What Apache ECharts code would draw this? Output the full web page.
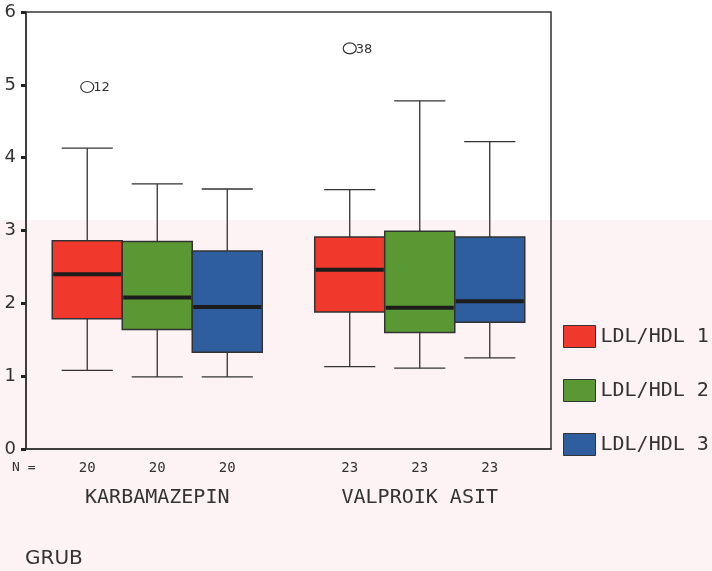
<!DOCTYPE html>
<html><head><meta charset="utf-8">
<script src="https://cdn.jsdelivr.net/npm/echarts@6/dist/echarts.min.js"></script>
<style>html,body{margin:0;padding:0;background:#fff}#c{width:712px;height:571px}</style>
</head><body><div id="c"></div>
<script>
const groups = ['KARBAMAZEPIN', 'VALPROIK ASIT'];
const nCounts = [20, 23];
const seriesNames = ['LDL/HDL 1', 'LDL/HDL 2', 'LDL/HDL 3'];
// [min, Q1, median, Q3, max] for each group
const ldlHdl1 = [[1.08, 1.79, 2.40, 2.86, 4.13], [1.13, 1.88, 2.46, 2.91, 3.56]];
const ldlHdl2 = [[0.99, 1.64, 2.08, 2.85, 3.64], [1.11, 1.60, 1.94, 2.99, 4.78]];
const ldlHdl3 = [[0.99, 1.33, 1.95, 2.72, 3.57], [1.25, 1.74, 2.03, 2.91, 4.22]];
// outliers: [group index, series index, value, case number]
const outliers = [[0, 0, 4.97, 12], [1, 0, 5.50, 38]];
const yMin = 0, yMax = 6, yStep = 1;

const colors = ['#f0392c', '#5a9834', '#2f5e9f'];
const boxOffsets = [-0.2667, 0, 0.2667];
const boxFrac = 0.2667;
const allSeries = [ldlHdl1, ldlHdl2, ldlHdl3];

function boxRender(sIdx) {
  return function (params, api) {
    const cat = api.value(0);
    const band = api.size([1, 0])[0];
    const base = api.coord([cat, 0]);
    const cx = base[0] + boxOffsets[sIdx] * band;
    const w = band * boxFrac;
    const capW = w * 0.73;
    const y = [1, 2, 3, 4, 5].map(d => api.coord([cat, api.value(d)])[1]);
    const ls = { stroke: '#333', lineWidth: 1.3 };
    return {
      type: 'group', children: [
        { type: 'line', shape: { x1: cx, y1: y[4], x2: cx, y2: y[3] }, style: ls },
        { type: 'line', shape: { x1: cx, y1: y[1], x2: cx, y2: y[0] }, style: ls },
        { type: 'line', shape: { x1: cx - capW / 2, y1: y[4], x2: cx + capW / 2, y2: y[4] }, style: ls },
        { type: 'line', shape: { x1: cx - capW / 2, y1: y[0], x2: cx + capW / 2, y2: y[0] }, style: ls },
        { type: 'rect', shape: { x: cx - w / 2, y: y[3], width: w, height: y[1] - y[3] }, style: { fill: colors[sIdx], stroke: '#333', lineWidth: 1.5 } },
        { type: 'line', shape: { x1: cx - w / 2 + 1, y1: y[2], x2: cx + w / 2 - 1, y2: y[2] }, style: { stroke: '#1c1c1c', lineWidth: 4 } },
        { type: 'text', x: cx, y: base[1] + 19, style: { text: String(nCounts[cat]), fill: '#333', font: '14px "DejaVu Sans Mono"', align: 'center', verticalAlign: 'middle' } }
      ]
    };
  };
}

function outlierRender(params, api) {
  const cat = api.value(0);
  const sIdx = api.value(1);
  const band = api.size([1, 0])[0];
  const p = api.coord([cat, api.value(2)]);
  const cx = p[0] + boxOffsets[sIdx] * band;
  return {
    type: 'group', children: [
      { type: 'ellipse', shape: { cx: cx, cy: p[1], rx: 6.5, ry: 5.5 }, style: { fill: 'none', stroke: '#333', lineWidth: 1.2 } },
      { type: 'text', x: cx + 6, y: p[1] + 1, style: { text: String(api.value(3)), fill: '#333', font: '13px "DejaVu Sans"', align: 'left', verticalAlign: 'middle' } }
    ]
  };
}

const series = allSeries.map((arr, i) => ({
  name: seriesNames[i],
  type: 'custom',
  renderItem: boxRender(i),
  itemStyle: { color: colors[i] },
  encode: { x: 0, y: [1, 2, 3, 4, 5] },
  data: arr.map((v, g) => [g].concat(v)),
  clip: false
}));
series.push({
  name: 'outliers',
  type: 'custom',
  renderItem: outlierRender,
  encode: { x: 0, y: 2 },
  data: outliers,
  clip: false
});

const chart = echarts.init(document.getElementById('c'), null, { renderer: 'canvas' });
chart.setOption({
  backgroundColor: '#ffffff',
  animation: false,
  title: {
    text: 'GRUB', left: 25, top: 549, padding: 0,
    textStyle: { fontFamily: 'DejaVu Sans', fontSize: 20, fontWeight: 'normal', color: '#333' }
  },
  graphic: [
    { type: 'rect', left: 0, top: 220, z: -10, silent: true, shape: { width: 712, height: 351 }, style: { fill: '#fdf2f4' } },
    { type: 'text', left: 12, top: 461, style: { text: 'N =', fill: '#333', font: '13px "DejaVu Sans Mono"' } }
  ],
  legend: {
    orient: 'vertical', left: 563, top: 325, padding: 0,
    itemWidth: 32, itemHeight: 22, itemGap: 31,
    icon: 'rect',
    data: seriesNames,
    itemStyle: { borderColor: '#333', borderWidth: 1 },
    textStyle: { fontFamily: 'DejaVu Sans Mono', fontSize: 20, color: '#333', padding: [4, 0, 0, 0] }
  },
  grid: {
    left: 26, right: 161, top: 12, bottom: 122,
    show: true, borderColor: '#333', borderWidth: 1.5, backgroundColor: 'transparent'
  },
  xAxis: {
    type: 'category', data: groups, boundaryGap: true,
    axisLine: { lineStyle: { color: '#333', width: 1.5 } },
    axisTick: { alignWithLabel: true, length: 4, lineStyle: { color: '#222', width: 3 } },
    axisLabel: { margin: 39, fontFamily: 'DejaVu Sans Mono', fontSize: 20, color: '#333' },
    splitLine: { show: false }
  },
  yAxis: {
    type: 'value', min: yMin, max: yMax, interval: yStep,
    axisLine: { show: true, lineStyle: { color: '#333', width: 1.5 } },
    axisTick: { show: true, length: 5, lineStyle: { color: '#222', width: 3 } },
    axisLabel: { margin: 10, fontFamily: 'DejaVu Sans', fontSize: 18, color: '#333' },
    splitLine: { show: false }
  },
  series: series
});
</script></body></html>
